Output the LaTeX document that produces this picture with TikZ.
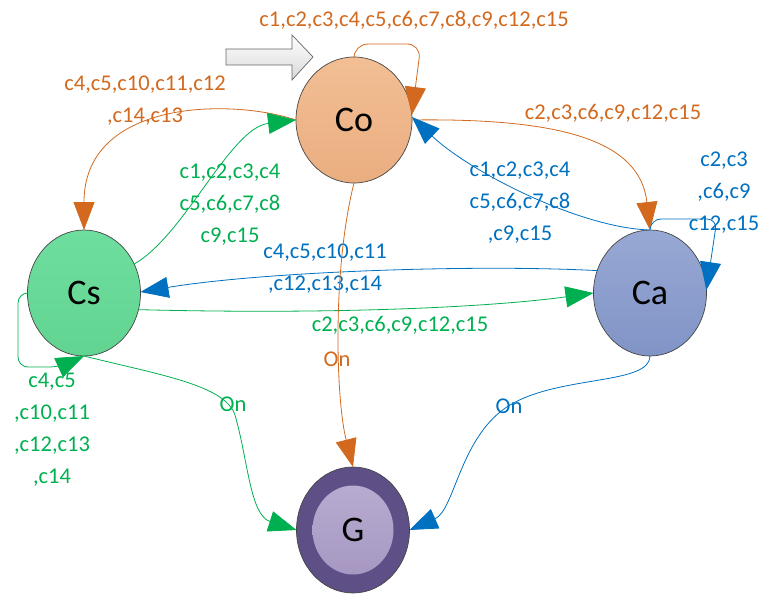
\documentclass[tikz,border=0pt]{standalone}
\usepackage{fontspec}
\setmainfont{Carlito}
\usetikzlibrary{arrows.meta,shapes.geometric}
\definecolor{corange}{RGB}{210,105,30}
\definecolor{cgreen}{RGB}{0,176,80}
\definecolor{cblue}{RGB}{0,112,192}
\definecolor{cotop}{RGB}{242,190,148}
\definecolor{cobot}{RGB}{234,174,128}
\definecolor{cstop}{RGB}{110,222,158}
\definecolor{csbot}{RGB}{98,212,145}
\definecolor{catop}{RGB}{152,168,212}
\definecolor{cabot}{RGB}{128,148,198}
\definecolor{gouter}{RGB}{95,79,135}
\definecolor{ginnertop}{RGB}{184,171,208}
\definecolor{ginnerbot}{RGB}{166,152,194}
\definecolor{nodeline}{RGB}{70,70,70}
\begin{document}
\begin{tikzpicture}[x=1pt,y=-1pt,
  statenode/.style={ellipse, draw=nodeline, line width=0.7pt, inner sep=0pt, outer sep=0pt,
    minimum width=113pt, minimum height=126pt, font=\fontsize{36}{36}\selectfont},
  lbl/.style={font=\fontsize{22.5}{32}\selectfont, align=center, inner sep=0pt},
  edge/.style={line width=0.8pt, -{Triangle[length=28pt,width=21pt]}},
  loopedge/.style={line width=0.8pt, rounded corners=14pt, -{Triangle[length=28pt,width=21pt]}}
]
\useasboundingbox (0,0) rectangle (764,594);

% nodes
\node[statenode, minimum width=116pt, top color=cotop, bottom color=cobot] (Co) at (354,120) {Co};
\node[statenode, top color=cstop, bottom color=csbot] (Cs) at (84,293) {Cs};
\node[statenode, top color=catop, bottom color=cabot] (Ca) at (650,293) {Ca};
\node[statenode, fill=gouter] (G) at (353,530) {};
\node[ellipse, inner sep=0pt, minimum width=81pt, minimum height=89pt, top color=ginnertop, bottom color=ginnerbot, font=\fontsize{36}{36}\selectfont] (Gi) at (G.center) {G};

% start block arrow
\path[draw=gray!80!black, line width=0.7pt, top color=white, bottom color=gray!30]
  (226,49) -- (292,49) -- (292,35) -- (313,57) -- (292,80) -- (292,65) -- (226,65) -- cycle;

% Co self loop
\coordinate (cl1) at (354,44);
\coordinate (cl2) at (421,44);
\draw[loopedge, corange] (Co.90) -- (cl1) -- (cl2) -- (Co.5);
\node[lbl, text=corange] (lcoloop) at (414,20) {c1,c2,c3,c4,c5,c6,c7,c8,c9,c12,c15};

% Co -> Cs
\draw[edge, corange] (Co.180) .. controls (230,98) and (84,100) .. (Cs.90);
\node[lbl, text=corange] (lcocs) at (145,101) {c4,c5,c10,c11,c12\\,c14,c13};

% Cs -> Co
\draw[edge, cgreen] (Cs.30) .. controls (185,235) and (230,128) .. (Co.180);
\node[lbl, text=cgreen] (lcsco) at (230,205) {c1,c2,c3,c4\\c5,c6,c7,c8\\c9,c15};

% Co -> Ca
\draw[edge, corange] (Co.0) .. controls (560,118) and (640,140) .. (Ca.90);
\node[lbl, text=corange] (lcoca) at (613,113) {c2,c3,c6,c9,c12,c15};

% Ca -> Co
\draw[edge, cblue] (Ca.90) .. controls (580,228) and (470,172) .. (Co.3);
\node[lbl, text=cblue] (lcaco) at (520,203) {c1,c2,c3,c4\\c5,c6,c7,c8\\,c9,c15};

% Ca self loop
\coordinate (al1) at (651,219);
\coordinate (al2) at (717,219);
\draw[loopedge, cblue, rounded corners=10pt] (Ca.90) -- (al1) -- (al2) -- (Ca.3);
\node[lbl, text=cblue] (lcaloop) at (724,193) {c2,c3\\,c6,c9\\c12,c15};

% Ca -> Cs
\draw[edge, cblue] (Ca.157) .. controls (470,264) and (260,272) .. (Cs.1);
\node[lbl, text=cblue] (lcacs) at (325,269) {c4,c5,c10,c11\\,c12,c13,c14};

% Cs -> Ca
\draw[edge, cgreen] (Cs.-17) .. controls (350,315) and (500,306) .. (Ca.180);
\node[lbl, text=cgreen] (lcsca) at (400,325) {c2,c3,c6,c9,c12,c15};

% Co -> G
\draw[edge, corange] (Co.-90) .. controls (332,270) and (336,400) .. (G.90);
\node[lbl, text=corange] (lcog) at (337,359) {On};

% Cs -> G
\draw[edge, cgreen] (Cs.-90) .. controls (160,375) and (225,385) .. (235,415)
  .. controls (248,460) and (250,515) .. (G.180);
\node[lbl, text=cgreen] (lcsg) at (233,404) {On};

% Ca -> G
\draw[edge, cblue] (Ca.-90) .. controls (650,385) and (560,375) .. (510,405)
  .. controls (460,435) and (455,510) .. (G.0);
\node[lbl, text=cblue] (lcag) at (509,406) {On};

% Cs self loop
\coordinate (sl1) at (18,293);
\coordinate (sl2) at (18,367);
\coordinate (sl3) at (60,367);
\draw[loopedge, cgreen, rounded corners=10pt] (Cs.180) -- (sl1) -- (sl2) -- (sl3) -- (Cs.-90);
\node[lbl, text=cgreen] (lcsloop) at (52,430) {c4,c5\\,c10,c11\\,c12,c13\\,c14};
\end{tikzpicture}
\end{document}
